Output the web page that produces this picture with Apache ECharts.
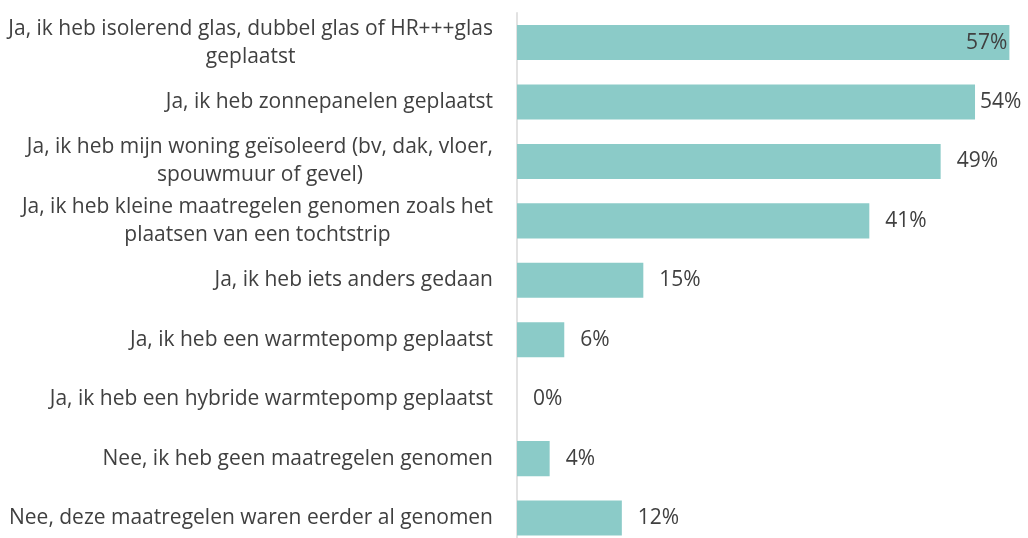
<!DOCTYPE html>
<html>
<head>
<meta charset="utf-8">
<script src="https://cdn.jsdelivr.net/npm/echarts@6/dist/echarts.min.js"></script>
<style>html,body{margin:0;padding:0;background:#fff}#c{width:1028px;height:538px}</style>
</head>
<body>
<div id="c"></div>
<script>
const categories = [
  "Ja, ik heb isolerend glas, dubbel glas of HR+++glas\ngeplaatst",
  "Ja, ik heb zonnepanelen geplaatst",
  "Ja, ik heb mijn woning geïsoleerd (bv, dak, vloer,\nspouwmuur of gevel)",
  "Ja, ik heb kleine maatregelen genomen zoals het\nplaatsen van een tochtstrip",
  "Ja, ik heb iets anders gedaan",
  "Ja, ik heb een warmtepomp geplaatst",
  "Ja, ik heb een hybride warmtepomp geplaatst",
  "Nee, ik heb geen maatregelen genomen",
  "Nee, deze maatregelen waren eerder al genomen"
];
const values = [57.3, 53.3, 49.3, 41.0, 14.7, 5.5, 0.0, 3.8, 12.2];
const valueLabels = ["57%", "54%", "49%", "41%", "15%", "6%", "0%", "4%", "12%"];

const chart = echarts.init(document.getElementById('c'));
const font = '"Open Sans", "Liberation Sans", sans-serif';
const data = values.map((v, i) => {
  const d = { value: v };
  if (i === 0) d.label = { position: 'insideRight', offset: [14, 0] };
  if (i === 1) d.label = { distance: 5 };
  return d;
});
chart.setOption({
  animation: false,
  grid: { left: 517, right: 4, top: 12.8, bottom: -9.8, outerBoundsMode: 'none', containLabel: false },
  xAxis: {
    type: 'value', min: 0, max: 59,
    show: false
  },
  yAxis: {
    type: 'category', inverse: true, data: categories,
    axisLine: { show: true, lineStyle: { color: '#d9d9d9', width: 1.5 } },
    axisTick: { show: false },
    axisLabel: {
      margin: 24,
      formatter: (v) => v.split('\n').map(l => '{c|' + l + '}').join('\n'),
      rich: { c: { align: 'center', fontFamily: font, fontSize: 21, color: '#404040', lineHeight: 28 } }
    }
  },
  series: [{
    type: 'bar', data: data, barCategoryGap: '41%',
    itemStyle: { color: '#8bcbc8' },
    label: {
      show: true, position: 'right', distance: 16,
      fontFamily: font, fontSize: 21, color: '#404040',
      formatter: (p) => valueLabels[p.dataIndex]
    }
  }]
});
</script>
</body>
</html>
